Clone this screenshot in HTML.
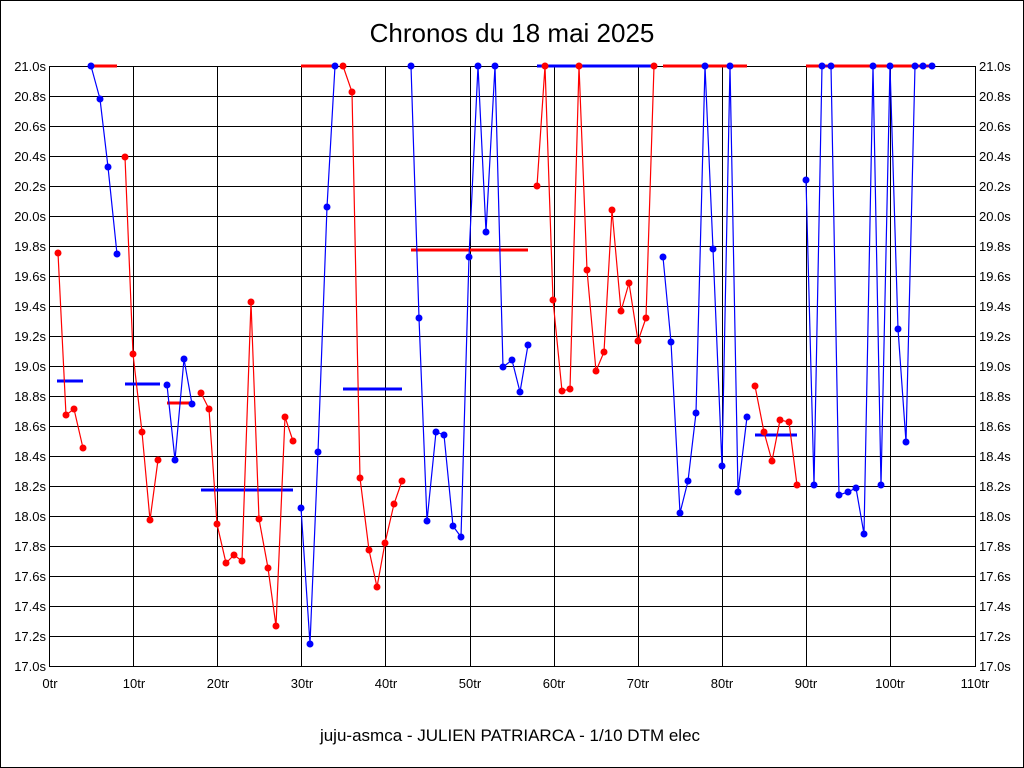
<!DOCTYPE html>
<html><head><meta charset="utf-8"><style>
html,body{margin:0;padding:0;background:#fff;}
svg{display:block;}
text{font-family:"Liberation Sans",sans-serif;}
</style></head><body>
<svg width="1024" height="768" xmlns="http://www.w3.org/2000/svg">
<rect x="0.5" y="0.5" width="1023" height="767" fill="#fff" stroke="#000"/>
<text x="512" y="42" font-size="26" text-anchor="middle">Chronos du 18 mai 2025</text>
<g stroke="#000" stroke-width="1">
<line x1="49" y1="96.5" x2="975" y2="96.5"/><line x1="49" y1="126.5" x2="975" y2="126.5"/><line x1="49" y1="156.5" x2="975" y2="156.5"/><line x1="49" y1="186.5" x2="975" y2="186.5"/><line x1="49" y1="216.5" x2="975" y2="216.5"/><line x1="49" y1="246.5" x2="975" y2="246.5"/><line x1="49" y1="276.5" x2="975" y2="276.5"/><line x1="49" y1="306.5" x2="975" y2="306.5"/><line x1="49" y1="336.5" x2="975" y2="336.5"/><line x1="49" y1="366.5" x2="975" y2="366.5"/><line x1="49" y1="396.5" x2="975" y2="396.5"/><line x1="49" y1="426.5" x2="975" y2="426.5"/><line x1="49" y1="456.5" x2="975" y2="456.5"/><line x1="49" y1="486.5" x2="975" y2="486.5"/><line x1="49" y1="516.5" x2="975" y2="516.5"/><line x1="49" y1="546.5" x2="975" y2="546.5"/><line x1="49" y1="576.5" x2="975" y2="576.5"/><line x1="49" y1="606.5" x2="975" y2="606.5"/><line x1="49" y1="636.5" x2="975" y2="636.5"/>
<line x1="133.5" y1="66" x2="133.5" y2="666"/><line x1="217.5" y1="66" x2="217.5" y2="666"/><line x1="301.5" y1="66" x2="301.5" y2="666"/><line x1="385.5" y1="66" x2="385.5" y2="666"/><line x1="470.5" y1="66" x2="470.5" y2="666"/><line x1="554.5" y1="66" x2="554.5" y2="666"/><line x1="638.5" y1="66" x2="638.5" y2="666"/><line x1="722.5" y1="66" x2="722.5" y2="666"/><line x1="806.5" y1="66" x2="806.5" y2="666"/><line x1="890.5" y1="66" x2="890.5" y2="666"/>
<rect x="49.5" y="66.5" width="926" height="600" fill="none"/>
</g>
<g font-size="13" text-anchor="end">
<text x="46" y="71">21.0s</text><text x="46" y="101">20.8s</text><text x="46" y="131">20.6s</text><text x="46" y="161">20.4s</text><text x="46" y="191">20.2s</text><text x="46" y="221">20.0s</text><text x="46" y="251">19.8s</text><text x="46" y="281">19.6s</text><text x="46" y="311">19.4s</text><text x="46" y="341">19.2s</text><text x="46" y="371">19.0s</text><text x="46" y="401">18.8s</text><text x="46" y="431">18.6s</text><text x="46" y="461">18.4s</text><text x="46" y="491">18.2s</text><text x="46" y="521">18.0s</text><text x="46" y="551">17.8s</text><text x="46" y="581">17.6s</text><text x="46" y="611">17.4s</text><text x="46" y="641">17.2s</text><text x="46" y="671">17.0s</text>
</g>
<g font-size="13">
<text x="979" y="71">21.0s</text><text x="979" y="101">20.8s</text><text x="979" y="131">20.6s</text><text x="979" y="161">20.4s</text><text x="979" y="191">20.2s</text><text x="979" y="221">20.0s</text><text x="979" y="251">19.8s</text><text x="979" y="281">19.6s</text><text x="979" y="311">19.4s</text><text x="979" y="341">19.2s</text><text x="979" y="371">19.0s</text><text x="979" y="401">18.8s</text><text x="979" y="431">18.6s</text><text x="979" y="461">18.4s</text><text x="979" y="491">18.2s</text><text x="979" y="521">18.0s</text><text x="979" y="551">17.8s</text><text x="979" y="581">17.6s</text><text x="979" y="611">17.4s</text><text x="979" y="641">17.2s</text><text x="979" y="671">17.0s</text>
</g>
<g font-size="13" text-anchor="middle">
<text x="50" y="688">0tr</text><text x="134" y="688">10tr</text><text x="218" y="688">20tr</text><text x="302" y="688">30tr</text><text x="386" y="688">40tr</text><text x="470" y="688">50tr</text><text x="554" y="688">60tr</text><text x="638" y="688">70tr</text><text x="722" y="688">80tr</text><text x="806" y="688">90tr</text><text x="890" y="688">100tr</text><text x="975" y="688">110tr</text>
</g>
<text x="510" y="741" font-size="17" text-anchor="middle">juju-asmca - JULIEN PATRIARCA - 1/10 DTM elec</text>
<!-- average lines -->
<g stroke-width="3">
<line x1="57" y1="381" x2="83" y2="381" stroke="#00f"/>
<line x1="91" y1="66" x2="117" y2="66" stroke="#f00"/>
<line x1="125" y1="384" x2="160" y2="384" stroke="#00f"/>
<line x1="167" y1="403" x2="193" y2="403" stroke="#f00"/>
<line x1="201" y1="490" x2="293" y2="490" stroke="#00f"/>
<line x1="301" y1="66" x2="336" y2="66" stroke="#f00"/>
<line x1="343" y1="389" x2="402" y2="389" stroke="#00f"/>
<line x1="411" y1="250" x2="528" y2="250" stroke="#f00"/>
<line x1="537" y1="66" x2="655" y2="66" stroke="#00f"/>
<line x1="663" y1="66" x2="747" y2="66" stroke="#f00"/>
<line x1="755" y1="435" x2="797" y2="435" stroke="#00f"/>
<line x1="806" y1="66" x2="932" y2="66" stroke="#f00"/>
</g>
<g fill="none" stroke-width="1.2">
<polyline stroke="#f00" points="58,253 66,415 74,409 83,448"/>
<polyline stroke="#00f" points="91,66 100,99 108,167 117,254"/>
<polyline stroke="#f00" points="125,157 133,354 142,432 150,520 158,460"/>
<polyline stroke="#00f" points="167,385 175,460 184,359 192,404"/>
<polyline stroke="#f00" points="201,393 209,409 217,524 226,563 234,555 242,561 251,302 259,519 268,568 276,626 285,417 293,441"/>
<polyline stroke="#00f" points="301,508 310,644 318,452 327,207 335,66"/>
<polyline stroke="#f00" points="343,66 352,92 360,478 369,550 377,587 385,543 394,504 402,481"/>
<polyline stroke="#00f" points="411,66 419,318 427,521 436,432 444,435 453,526 461,537 469,257 478,66 486,232 495,66 503,367 512,360 520,392 528,345"/>
<polyline stroke="#f00" points="537,186 545,66 553,300 562,391 570,389 579,66 587,270 596,371 604,352 612,210 621,311 629,283 638,341 646,318 654,66"/>
<polyline stroke="#00f" points="663,257 671,342 680,513 688,481 696,413 705,66 713,249 722,466 730,66 738,492 747,417"/>
<polyline stroke="#f00" points="755,386 764,432 772,461 780,420 789,422 797,485"/>
<polyline stroke="#00f" points="806,180 814,485 822,66 831,66 839,495 848,492 856,488 864,534 873,66 881,485 890,66 898,329 906,442 915,66 923,66 932,66"/>
</g>
<g fill="#f00">
<circle cx="58" cy="253" r="3.5"/><circle cx="66" cy="415" r="3.5"/><circle cx="74" cy="409" r="3.5"/><circle cx="83" cy="448" r="3.5"/>
<circle cx="125" cy="157" r="3.5"/><circle cx="133" cy="354" r="3.5"/><circle cx="142" cy="432" r="3.5"/><circle cx="150" cy="520" r="3.5"/><circle cx="158" cy="460" r="3.5"/>
<circle cx="201" cy="393" r="3.5"/><circle cx="209" cy="409" r="3.5"/><circle cx="217" cy="524" r="3.5"/><circle cx="226" cy="563" r="3.5"/><circle cx="234" cy="555" r="3.5"/><circle cx="242" cy="561" r="3.5"/><circle cx="251" cy="302" r="3.5"/><circle cx="259" cy="519" r="3.5"/><circle cx="268" cy="568" r="3.5"/><circle cx="276" cy="626" r="3.5"/><circle cx="285" cy="417" r="3.5"/><circle cx="293" cy="441" r="3.5"/>
<circle cx="343" cy="66" r="3.5"/><circle cx="352" cy="92" r="3.5"/><circle cx="360" cy="478" r="3.5"/><circle cx="369" cy="550" r="3.5"/><circle cx="377" cy="587" r="3.5"/><circle cx="385" cy="543" r="3.5"/><circle cx="394" cy="504" r="3.5"/><circle cx="402" cy="481" r="3.5"/>
<circle cx="537" cy="186" r="3.5"/><circle cx="545" cy="66" r="3.5"/><circle cx="553" cy="300" r="3.5"/><circle cx="562" cy="391" r="3.5"/><circle cx="570" cy="389" r="3.5"/><circle cx="579" cy="66" r="3.5"/><circle cx="587" cy="270" r="3.5"/><circle cx="596" cy="371" r="3.5"/><circle cx="604" cy="352" r="3.5"/><circle cx="612" cy="210" r="3.5"/><circle cx="621" cy="311" r="3.5"/><circle cx="629" cy="283" r="3.5"/><circle cx="638" cy="341" r="3.5"/><circle cx="646" cy="318" r="3.5"/><circle cx="654" cy="66" r="3.5"/>
<circle cx="755" cy="386" r="3.5"/><circle cx="764" cy="432" r="3.5"/><circle cx="772" cy="461" r="3.5"/><circle cx="780" cy="420" r="3.5"/><circle cx="789" cy="422" r="3.5"/><circle cx="797" cy="485" r="3.5"/>
</g>
<g fill="#00f">
<circle cx="91" cy="66" r="3.5"/><circle cx="100" cy="99" r="3.5"/><circle cx="108" cy="167" r="3.5"/><circle cx="117" cy="254" r="3.5"/>
<circle cx="167" cy="385" r="3.5"/><circle cx="175" cy="460" r="3.5"/><circle cx="184" cy="359" r="3.5"/><circle cx="192" cy="404" r="3.5"/>
<circle cx="301" cy="508" r="3.5"/><circle cx="310" cy="644" r="3.5"/><circle cx="318" cy="452" r="3.5"/><circle cx="327" cy="207" r="3.5"/><circle cx="335" cy="66" r="3.5"/>
<circle cx="411" cy="66" r="3.5"/><circle cx="419" cy="318" r="3.5"/><circle cx="427" cy="521" r="3.5"/><circle cx="436" cy="432" r="3.5"/><circle cx="444" cy="435" r="3.5"/><circle cx="453" cy="526" r="3.5"/><circle cx="461" cy="537" r="3.5"/><circle cx="469" cy="257" r="3.5"/><circle cx="478" cy="66" r="3.5"/><circle cx="486" cy="232" r="3.5"/><circle cx="495" cy="66" r="3.5"/><circle cx="503" cy="367" r="3.5"/><circle cx="512" cy="360" r="3.5"/><circle cx="520" cy="392" r="3.5"/><circle cx="528" cy="345" r="3.5"/>
<circle cx="663" cy="257" r="3.5"/><circle cx="671" cy="342" r="3.5"/><circle cx="680" cy="513" r="3.5"/><circle cx="688" cy="481" r="3.5"/><circle cx="696" cy="413" r="3.5"/><circle cx="705" cy="66" r="3.5"/><circle cx="713" cy="249" r="3.5"/><circle cx="722" cy="466" r="3.5"/><circle cx="730" cy="66" r="3.5"/><circle cx="738" cy="492" r="3.5"/><circle cx="747" cy="417" r="3.5"/>
<circle cx="806" cy="180" r="3.5"/><circle cx="814" cy="485" r="3.5"/><circle cx="822" cy="66" r="3.5"/><circle cx="831" cy="66" r="3.5"/><circle cx="839" cy="495" r="3.5"/><circle cx="848" cy="492" r="3.5"/><circle cx="856" cy="488" r="3.5"/><circle cx="864" cy="534" r="3.5"/><circle cx="873" cy="66" r="3.5"/><circle cx="881" cy="485" r="3.5"/><circle cx="890" cy="66" r="3.5"/><circle cx="898" cy="329" r="3.5"/><circle cx="906" cy="442" r="3.5"/><circle cx="915" cy="66" r="3.5"/><circle cx="923" cy="66" r="3.5"/><circle cx="932" cy="66" r="3.5"/>
</g>
</svg>
</body></html>
